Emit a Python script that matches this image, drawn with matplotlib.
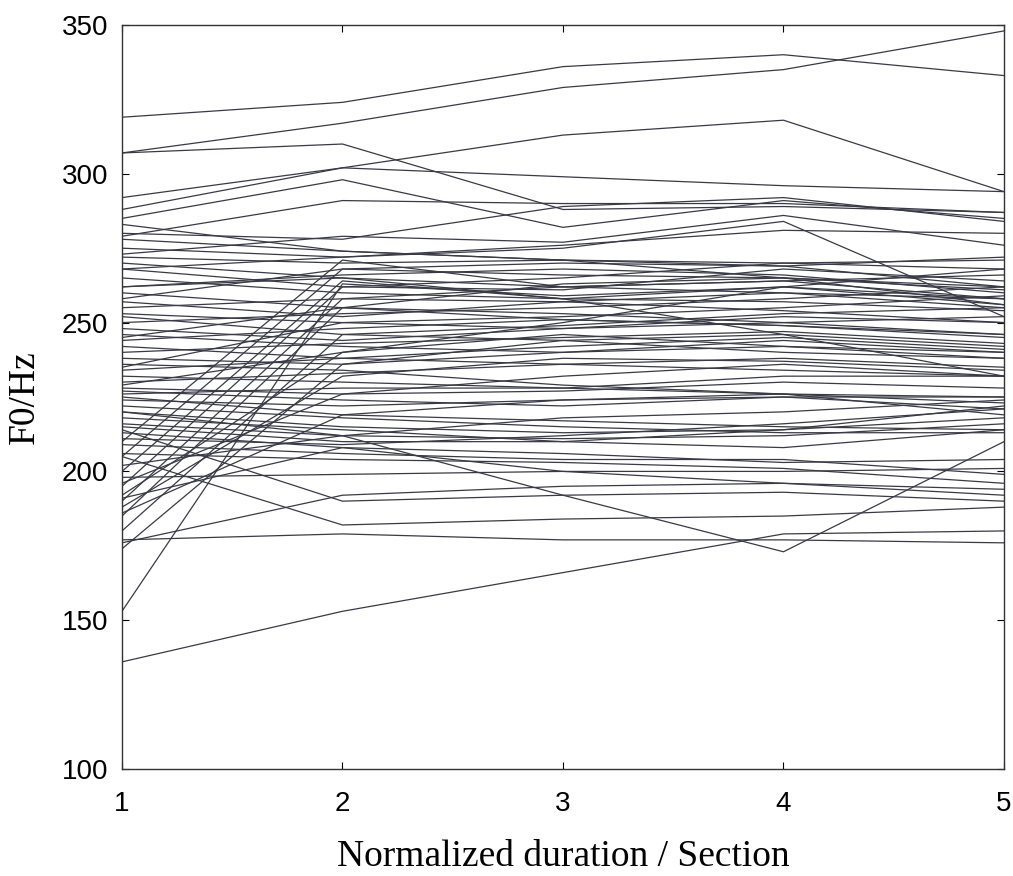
import numpy as np
import matplotlib.pyplot as plt

sections = [1, 2, 3, 4, 5]

# F0 contours (Hz) at the five normalized sections, one row per utterance
upper = [
    [319, 324, 336, 340, 333],
    [307, 317, 329, 335, 348],
    [307, 310, 288, 289, 287],
    [288, 302, 313, 318, 294],
    [292, 302, 299, 296, 294],
    [285, 298, 282, 291, 285],
    [279, 291, 290, 290, 287],
    [283, 274, 271, 270, 268],
    [280, 278, 289, 292, 284],
    [268, 272, 275, 284, 252],
    [262, 265, 258, 246, 232],
    [273, 279, 277, 286, 276],
]

band = [
    [278, 274, 271, 269, 262],
    [275, 272, 276, 281, 280],
    [272, 270, 271, 265, 262],
    [270, 265, 262, 264, 258],
    [268, 262, 265, 270, 271],
    [265, 260, 258, 262, 256],
    [262, 266, 268, 266, 260],
    [260, 255, 253, 250, 252],
    [257, 252, 257, 260, 255],
    [255, 258, 262, 264, 266],
    [253, 250, 248, 250, 246],
    [252, 246, 244, 240, 238],
    [250, 253, 255, 258, 262],
    [248, 244, 248, 252, 250],
    [246, 242, 240, 244, 240],
    [244, 248, 251, 249, 245],
    [242, 238, 236, 234, 232],
    [240, 243, 245, 247, 243],
    [238, 236, 240, 242, 240],
    [236, 234, 229, 226, 223],
    [234, 238, 242, 245, 241],
    [232, 230, 228, 226, 225],
    [230, 233, 236, 238, 235],
    [228, 226, 227, 230, 228],
    [227, 224, 222, 225, 221],
    [226, 228, 228, 232, 232],
    [225, 219, 217, 215, 214],
    [224, 222, 224, 226, 219],
    [222, 218, 215, 213, 213],
    [220, 215, 213, 214, 218],
    [218, 214, 210, 208, 214],
    [216, 212, 211, 212, 216],
    [215, 210, 210, 214, 222],
    [213, 208, 206, 203, 204],
    [211, 209, 212, 216, 221],
    [209, 206, 204, 204, 199],
    [206, 204, 203, 201, 196],
    [258, 268, 270, 269, 272],
    [245, 255, 263, 265, 261],
    [235, 250, 252, 255, 259],
    [229, 240, 250, 262, 268],
]

rising = [
    [210, 271, 262, 260, 258],
    [205, 268, 266, 265, 256],
    [200, 264, 258, 257, 254],
    [195, 262, 261, 268, 264],
    [190, 258, 257, 254, 250],
    [185, 255, 251, 249, 246],
    [180, 246, 249, 253, 255],
    [153, 263, 259, 262, 258],
    [174, 236, 244, 246, 242],
    [188, 232, 238, 237, 234],
    [192, 240, 246, 242, 238],
    [196, 226, 232, 236, 232],
    [186, 219, 224, 225, 225],
]

lower = [
    [198, 199, 200, 200, 201],
    [205, 182, 184, 185, 188],
    [214, 190, 192, 193, 190],
    [176, 192, 195, 196, 194],
    [177, 179, 177, 177, 176],
    [136, 153, 166, 179, 180],
    [220, 212, 192, 173, 210],
    [191, 208, 200, 196, 192],
    [202, 212, 218, 220, 224],
]

fig = plt.figure(figsize=(10.13, 8.76), dpi=100)
ax = fig.add_axes([0.1204, 0.1221, 0.8707, 0.8494])

for group in (upper, band, rising, lower):
    for row in group:
        ax.plot(sections, row, color='#3a3a46', linewidth=0.9)

ax.set_xlim(1, 5)
ax.set_ylim(100, 350)
ax.set_xticks(sections)
ax.set_yticks([100, 150, 200, 250, 300, 350])
ax.tick_params(direction='in', top=True, right=True, length=5, width=0.8,
               labelsize=20)
ax.tick_params(axis='x', pad=16)
ax.tick_params(axis='y', pad=10)
for lab in ax.get_xticklabels() + ax.get_yticklabels():
    lab.set_family('Liberation Sans')
for s in ax.spines.values():
    s.set_linewidth(1.0)
    s.set_color('#333333')

ax.set_xlabel('Normalized duration / Section', family='Liberation Serif',
              fontsize=27, labelpad=16)
ax.set_ylabel('F0/Hz', family='Liberation Serif', fontsize=27, labelpad=14)

plt.savefig('out.png', dpi=100)
